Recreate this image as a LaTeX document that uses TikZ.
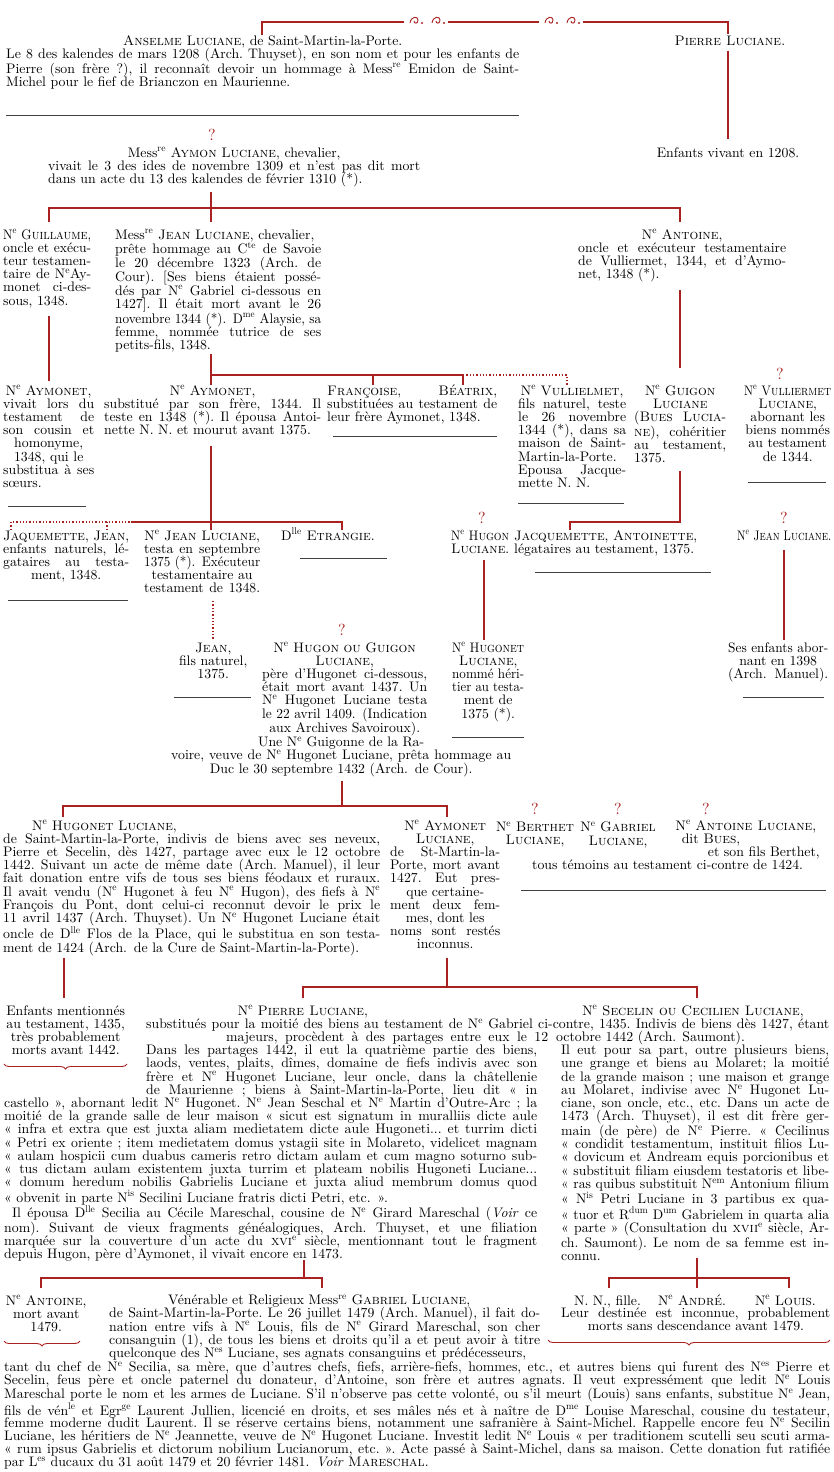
\documentclass[tikz,border=0pt]{standalone}
\usepackage{graphicx}
\usepackage{fontspec}
\setmainfont{lmroman10}[Extension=.otf, UprightFont=*-regular, ItalicFont=*-italic,
  BoldFont=*-bold, SmallCapsFont=lmromancaps10-regular]
\usetikzlibrary{positioning,decorations.pathreplacing}
\definecolor{treered}{RGB}{170,34,32}
\lineskiplimit=-20pt
\newlength\natw
\newcommand\sx[1]{\textsuperscript{#1}}
\newcommand\Nb{N\sx{e}}
% one printed line, fitted to the column
\newcommand\fitbox[2]{\settowidth\natw{#2}\ifdim\natw>\linewidth\resizebox{\linewidth}{\height}{#2}\else\makebox[\linewidth][#1]{#2}\fi}
\newcommand\jl[1]{\settowidth\natw{#1}\ifdim\natw>\linewidth\resizebox{\linewidth}{\height}{#1}\else\leavevmode\hbox to\linewidth{\frenchspacing\spaceskip=.3em plus 1fil\relax#1}\fi}
\newcommand\lf{\fitbox{l}}
\newcommand\ct{\fitbox{c}}
\begin{document}
\begin{tikzpicture}[x=1pt,y=-1pt,
  font=\fontsize{13.8}{13.2}\selectfont,
  para/.style={text width=#1, inner sep=0pt, anchor=mid west},
  lbl/.style={inner sep=0pt, anchor=mid},
  tree/.style={draw=treered, line width=1.3pt},
  natural/.style={draw=treered, line width=1.3pt, dotted},
  rule/.style={draw=black!75, line width=.7pt},
  qm/.style={inner sep=0pt, text=treered, font=\fontsize{16}{16}\selectfont},
  curl/.style={draw=treered, line width=.9pt},
  bracedown/.style={draw=treered, line width=.9pt, decorate, decoration={brace, amplitude=5pt}}]
\useasboundingbox (0,0) rectangle (834,1472);
\fill[white] (0,0) rectangle (834,1472);

% Anselme and Pierre
\coordinate (topL) at (262,22);
\coordinate (topR) at (728,22);
\draw[tree] (262,35) -- (topL) -- (404,22);
\draw[tree] (448,22) -- (539,22);
\draw[tree] (583,22) -- (topR) -- (728,34);
\foreach \ox in {410,432,545,567} {
  \draw[curl] (\ox,23) .. controls (\ox+1,16) and (\ox+8,16) .. (\ox+8,20) .. controls (\ox+8,24) and (\ox+4,24) .. (\ox+4,21);
  \fill[treered] (\ox+12,23) circle (1.1);
}
\node[para=513pt] (anselme) at (6,43) {%
\ct{\textsc{Anselme Luciane}, de Saint-Martin-la-Porte.}\\
\jl{Le 8 des kalendes de mars 1208 (Arch. Thuyset), en son nom et pour les enfants de}\\
\jl{Pierre (son frère ?), il reconnaît devoir un hommage à Mess\sx{re} Emidon de Saint-}\\
\lf{Michel pour le fief de Brianczon en Maurienne.}};
\draw[rule] (6,115) -- (519,115);
\node[lbl] (pierre) at (730,43) {\textsc{Pierre Luciane.}};
\node[lbl] (enf1208) at (728,155) {Enfants vivant en 1208.};
\draw[tree] ([yshift=-5pt]pierre.south -| topR) -- ([yshift=8pt]enf1208.north -| topR);

% Aymon
\node[qm] (q1) at (212,135) {?};
\node[para=372pt] (aymon) at (48,155) {%
\ct{Mess\sx{re} \textsc{Aymon Luciane}, chevalier,}\\
\jl{vivait le 3 des ides de novembre 1309 et n'est pas dit mort}\\
\lf{dans un acte du 13 des kalendes de février 1310 (*).}};
\coordinate (barA) at (211,208);
\draw[tree] (211,192) -- (211,222);
\draw[tree] (49,222) -- (49,208) -- (barA) -- (680,208) -- (680,222);

% children of Aymon
\node[para=88pt] (guillaume) at (3,237) {%
\lf{\Nb{} \textsc{Guillaume},}\\
\jl{oncle et exécu-}\\
\jl{teur testamen-}\\
\jl{taire de \Nb{}Ay-}\\
\jl{monet ci-des-}\\
\lf{sous, 1348.}};
\node[para=206pt] (jean) at (115,237) {%
\lf{Mess\sx{re} \textsc{Jean Luciane}, chevalier,}\\
\jl{prête hommage au C\sx{te} de Savoie}\\
\jl{le 20 décembre 1323 (Arch. de}\\
\jl{Cour). [Ses biens étaient possé-}\\
\jl{dés par \Nb{} Gabriel ci-dessous en}\\
\jl{1427]. Il était mort avant le 26}\\
\jl{novembre 1344 (*). D\sx{me} Alaysie, sa}\\
\jl{femme, nommée tutrice de ses}\\
\lf{petits-fils, 1348.}};
\node[para=208pt] (antoine) at (578,237) {%
\ct{\Nb{} \textsc{Antoine},}\\
\jl{oncle et exécuteur testamentaire}\\
\jl{de Vulliermet, 1344, et d'Aymo-}\\
\lf{net, 1348 (*).}};
\draw[tree] (49,316) -- (49,381);
\draw[tree] (211,354) -- (211,385);
\draw[tree] (211,375) -- (463,375);
\draw[tree] (373,375) -- (373,385);
\draw[tree] (463,385) -- (463,375);
\draw[natural] (463,375) -- (567,375) -- (567,386);
\draw[tree] (680,290) -- (680,368);

% grandchildren
\node[para=91pt] (aymonetc) at (3,393) {%
\ct{\Nb{} \textsc{Aymonet},}\\
\jl{vivait lors du}\\
\jl{testament de}\\
\jl{son cousin et}\\
\ct{homonyme,}\\
\ct{1348, qui le}\\
\jl{substitua à ses}\\
\lf{sœurs.}};
\draw[rule] (8,506) -- (86,506);
\node[para=217pt] (aymonet) at (104,393) {%
\ct{\Nb{} \textsc{Aymonet},}\\
\jl{substitué par son frère, 1344. Il}\\
\jl{teste en 1348 (*). Il épousa Antoi-}\\
\lf{nette N. N. et mourut avant 1375.}};
\node[para=170pt] (francoise) at (327,393) {%
\jl{\textsc{Françoise}, \textsc{Béatrix},}\\
\jl{substituées au testament de}\\
\lf{leur frère Aymonet, 1348.}};
\draw[rule] (333,436) -- (497,436);
\node[para=108pt] (vullielmet) at (518,393) {%
\ct{\Nb{} \textsc{Vullielmet},}\\
\jl{fils naturel, teste}\\
\jl{le 26 novembre}\\
\jl{1344 (*), dans sa}\\
\jl{maison de Saint-}\\
\jl{Martin-la-Porte.}\\
\jl{Epousa Jacque-}\\
\lf{mette N. N.}};
\draw[rule] (518,503) -- (624,503);
\node[para=92pt] (guigon) at (634,393) {%
\ct{\Nb{} \textsc{Guigon}}\\
\ct{\textsc{Luciane}}\\
\jl{(\textsc{Bues Lucia}-}\\
\jl{\textsc{ne}), cohéritier}\\
\jl{au testament,}\\
\lf{1375.}};
\node[qm] (q2) at (780,374) {?};
\node[para=87pt] (vulliermet) at (744,393) {%
\ct{\Nb{} \textsc{Vulliermet}}\\
\ct{\textsc{Luciane},}\\
\ct{abornant les}\\
\ct{biens nommés}\\
\ct{au testament}\\
\ct{de 1344.}};
\draw[rule] (748,482) -- (826,482);

% children of Aymonet and of Guigon
\draw[tree] (211,446) -- (211,530);
\draw[natural] (11,530) -- (11,522) -- (131,522);
\draw[natural] (107,522) -- (107,530);
\draw[tree] (131,522) -- (342,522) -- (342,530);
\draw[tree] (680,471) -- (680,522) -- (570,522) -- (570,530);
\node[para=126pt] (jaquemette) at (3,538) {%
\jl{\textsc{Jaquemette}, \textsc{Jean},}\\
\jl{enfants naturels, lé-}\\
\jl{gataires au testa-}\\
\ct{ment, 1348.}};
\draw[rule] (8,600) -- (128,600);
\node[para=116pt] (jeanl) at (144,538) {%
\ct{\Nb{} \textsc{Jean Luciane},}\\
\jl{testa en septembre}\\
\jl{1375 (*). Exécuteur}\\
\ct{testamentaire au}\\
\jl{testament de 1348.}};
\node[anchor=mid west, inner sep=0pt] (etrangie) at (281,538) {D\sx{lle} \textsc{Etrangie}.};
\draw[rule] (300,558) -- (387,558);
\node[qm] (q3) at (482,518) {?};
\node[para=58pt] (hugon) at (451,538) {%
\ct{\Nb{} \textsc{Hugon}}\\
\ct{\textsc{Luciane}.}};
\node[para=183pt] (jacquemette) at (514,538) {%
\jl{\textsc{Jacquemette}, \textsc{Antoinette},}\\
\lf{légataires au testament, 1375.}};
\draw[rule] (535,572) -- (711,572);
\node[qm] (q4) at (784,518) {?};
\node[para=94pt] (jeanr) at (737,538) {\ct{\Nb{} \textsc{Jean Luciane}.}};

% next generation
\draw[natural] (213,601) -- (213,640);
\draw[tree] (484,560) -- (484,640);
\draw[tree] (784,550) -- (784,640);
\node[para=78pt] (jeanf) at (174,650) {%
\ct{\textsc{Jean},}\\
\ct{fils naturel,}\\
\ct{1375.}};
\draw[rule] (174,697) -- (251,697);
\node[qm] (q5) at (342,630) {?};
\node[para=165pt] (hugong) at (262,650) {%
\ct{\Nb{} \textsc{Hugon ou Guigon}}\\
\ct{\textsc{Luciane},}\\
\jl{père d'Hugonet ci-dessous,}\\
\jl{était mort avant 1437. Un}\\
\jl{\Nb{} Hugonet Luciane testa}\\
\jl{le 22 avril 1409. (Indication}\\
\ct{aux Archives Savoiroux).}};
\node[para=340pt] (guigonne) at (171,744.5) {%
\ct{Une \Nb{} Guigonne de la Ra-}\\
\jl{voire, veuve de \Nb{} Hugonet Luciane, prêta hommage au}\\
\ct{Duc le 30 septembre 1432 (Arch. de Cour).}};
\node[para=72pt] (hugonet) at (452,650) {%
\ct{\Nb{} \textsc{Hugonet}}\\
\ct{\textsc{Luciane},}\\
\jl{nommé héri-}\\
\jl{tier au testa-}\\
\ct{ment de}\\
\ct{1375 (*).}};
\draw[rule] (452,737) -- (524,737);
\node[para=100pt] (sesenf) at (728,650) {%
\jl{Ses enfants abor-}\\
\ct{nant en 1398}\\
\jl{(Arch. Manuel).}};
\draw[rule] (743,697) -- (824,697);

% children of Hugon
\draw[tree] (342,781) -- (342,806);
\draw[tree] (63,817) -- (63,806) -- (447,806) -- (447,817);
\node[para=377pt] (hugonetl) at (3,828) {%
\lf{\hspace*{29pt}\Nb{} \textsc{Hugonet Luciane},}\\
\jl{de Saint-Martin-la-Porte, indivis de biens avec ses neveux,}\\
\jl{Pierre et Secelin, dès 1427, partage avec eux le 12 octobre}\\
\jl{1442. Suivant un acte de même date (Arch. Manuel), il leur}\\
\jl{fait donation entre vifs de tous ses biens féodaux et ruraux.}\\
\jl{Il avait vendu (\Nb{} Hugonet à feu \Nb{} Hugon), des fiefs à \Nb}\\
\jl{François du Pont, dont celui-ci reconnut devoir le prix le}\\
\jl{11 avril 1437 (Arch. Thuyset). Un \Nb{} Hugonet Luciane était}\\
\jl{oncle de D\sx{lle} Flos de la Place, qui le substitua en son testa-}\\
\lf{ment de 1424 (Arch. de la Cure de Saint-Martin-la-Porte).}};
\node[para=110pt] (aymonetl) at (390,828) {%
\ct{\Nb{} \textsc{Aymonet}}\\
\ct{\textsc{Luciane},}\\
\jl{de St-Martin-la-}\\
\jl{Porte, mort avant}\\
\jl{1427. Eut pres-}\\
\ct{que certaine-}\\
\jl{ment deux fem-}\\
\ct{mes, dont les}\\
\jl{noms sont restés}\\
\ct{inconnus.}};
\node[qm] (q6) at (535,809) {?};
\node[qm] (q7) at (618,809) {?};
\node[qm] (q8) at (706,809) {?};
\node[inner sep=0pt, anchor=north, align=center] (berthet) at (535,822) {\Nb{} \textsc{Berthet}\\\textsc{Luciane},};
\node[inner sep=0pt, anchor=north, align=center] (gabrielw) at (618,822) {\Nb{} \textsc{Gabriel}\\\textsc{Luciane},};
\node[lbl] (antoineb) at (746,828) {\Nb{} \textsc{Antoine Luciane},};
\node[lbl] (bues) at (711,841.2) {dit \textsc{Bues},};
\node[anchor=mid east, inner sep=0pt] (filsb) at (820,854.4) {et son fils Berthet,};
\node[anchor=mid west, inner sep=0pt] (temoins) at (532,867.6) {tous témoins au testament ci-contre de 1424.};
\draw[rule] (521,890) -- (826,890);

% children of Hugonet and of Aymonet
\draw[tree] (64,958) -- (64,998);
\draw[tree] (447,958) -- (447,987);
\draw[tree] (303,998) -- (303,987) -- (697,987) -- (697,998);
\node[para=123pt] (enfm) at (4,1013) {%
\ct{Enfants mentionnés}\\
\ct{au testament, 1435,}\\
\ct{très probablement}\\
\ct{morts avant 1442.}};
\draw[bracedown] (127,1064) -- (4,1064);
\node[lbl] (pierrel) at (303,1013) {\Nb{} \textsc{Pierre Luciane},};
\node[lbl] (secelin) at (693,1013) {\Nb{} \textsc{Secelin ou Cecilien Luciane},};
\node[para=683pt] (subst) at (146,1026.2) {%
\jl{substitués pour la moitié des biens au testament de \Nb{} Gabriel ci-contre, 1435. Indivis de biens dès 1427, étant}};
\node[para=322pt] (majeurs) at (226,1039.4) {\jl{majeurs, procèdent à des partages entre eux le 12}};
\node[anchor=mid west, inner sep=0pt] (octobre) at (556,1039.4) {octobre 1442 (Arch. Saumont).};
\node[para=391pt] (pierreb) at (146,1052.6) {%
\jl{Dans les partages 1442, il eut la quatrième partie des biens,}\\
\jl{laods, ventes, plaits, dîmes, domaine de fiefs indivis avec son}\\
\jl{frère et \Nb{} Hugonet Luciane, leur oncle, dans la châtellenie}\\
\jl{de Maurienne ; biens à Saint-Martin-la-Porte, lieu dit « in}};
\node[para=533pt] (pierrec) at (4,1105.4) {%
\jl{castello », abornant ledit \Nb{} Hugonet. \Nb{} Jean Seschal et \Nb{} Martin d'Outre-Arc ; la}\\
\jl{moitié de la grande salle de leur maison « sicut est signatum in muralliis dicte aule}\\
\jl{« infra et extra que est juxta aliam medietatem dicte aule Hugoneti... et turrim dicti}\\
\jl{« Petri ex oriente ; item medietatem domus ystagii site in Molareto, videlicet magnam}\\
\jl{« aulam hospicii cum duabus cameris retro dictam aulam et cum magno soturno sub-}\\
\jl{« tus dictam aulam existentem juxta turrim et plateam nobilis Hugoneti Luciane...}\\
\jl{« domum heredum nobilis Gabrielis Luciane et juxta aliud membrum domus quod}\\
\lf{« obvenit in parte N\sx{is} Secilini Luciane fratris dicti Petri, etc. ».}\\
\jl{\hspace*{8pt}Il épousa D\sx{lle} Secilia au Cécile Mareschal, cousine de \Nb{} Girard Mareschal (\textit{Voir} ce}\\
\jl{nom). Suivant de vieux fragments généalogiques, Arch. Thuyset, et une filiation}\\
\jl{marquée sur la couverture d'un acte du \textsc{xvi}\sx{e} siècle, mentionnant tout le fragment}\\
\lf{depuis Hugon, père d'Aymonet, il vivait encore en 1473.}};
\node[para=268pt] (secelinb) at (561,1052.6) {%
\jl{Il eut pour sa part, outre plusieurs biens,}\\
\jl{une grange et biens au Molaret; la moitié}\\
\jl{de la grande maison ; une maison et grange}\\
\jl{au Molaret, indivise avec \Nb{} Hugonet Lu-}\\
\jl{ciane, son oncle, etc., etc. Dans un acte de}\\
\jl{1473 (Arch. Thuyset), il est dit frère ger-}\\
\jl{main (de père) de \Nb{} Pierre. « Cecilinus}\\
\jl{« condidit testamentum, instituit filios Lu-}\\
\jl{« dovicum et Andream equis porcionibus et}\\
\jl{« substituit filiam eiusdem testatoris et libe-}\\
\jl{« ras quibus substituit N\sx{em} Antonium filium}\\
\jl{« N\sx{is} Petri Luciane in 3 partibus ex qua-}\\
\jl{« tuor et R\sx{dum} D\sx{um} Gabrielem in quarta alia}\\
\jl{« parte » (Consultation du \textsc{xvii}\sx{e} siècle, Ar-}\\
\jl{ch. Saumont). Le nom de sa femme est in-}\\
\lf{connu.}};

% children of Pierre and of Secelin
\draw[tree] (304,1260) -- (304,1278);
\draw[tree] (41,1288) -- (41,1278) -- (322,1278) -- (322,1288);
\draw[tree] (697,1258) -- (697,1288);
\draw[tree] (609,1288) -- (609,1278) -- (789,1278) -- (789,1288);
\node[para=84pt] (antoinem) at (4,1303) {%
\ct{\Nb{} \textsc{Antoine},}\\
\ct{mort avant}\\
\ct{1479.}};
\draw[bracedown] (80,1341) -- (4,1341);
\node[para=431pt] (gabriel) at (109,1302.5) {%
\lf{\hspace*{59pt}Vénérable et Religieux Mess\sx{re} \textsc{Gabriel Luciane},}\\
\jl{de Saint-Martin-la-Porte. Le 26 juillet 1479 (Arch. Manuel), il fait do-}\\
\jl{nation entre vifs à \Nb{} Louis, fils de \Nb{} Girard Mareschal, son cher}\\
\jl{consanguin (1), de tous les biens et droits qu'il a et peut avoir à titre}\\
\lf{quelconque des N\sx{es} Luciane, ses agnats consanguins et prédécesseurs,}};
\node[para=826pt, font=\fontsize{13.8}{12.8}\selectfont] (gabrielb) at (4,1369.5) {%
\jl{tant du chef de \Nb{} Secilia, sa mère, que d'autres chefs, fiefs, arrière-fiefs, hommes, etc., et autres biens qui furent des N\sx{es} Pierre et}\\
\jl{Secelin, feus père et oncle paternel du donateur, d'Antoine, son frère et autres agnats. Il veut expressément que ledit \Nb{} Louis}\\
\jl{Mareschal porte le nom et les armes de Luciane. S'il n'observe pas cette volonté, ou s'il meurt (Louis) sans enfants, substitue \Nb{} Jean,}\\
\jl{fils de vén\sx{le} et Egr\sx{ge} Laurent Jullien, licencié en droits, et ses mâles nés et à naître de D\sx{me} Louise Mareschal, cousine du testateur,}\\
\jl{femme moderne dudit Laurent. Il se réserve certains biens, notamment une safranière à Saint-Michel. Rappelle encore feu \Nb{} Secilin}\\
\jl{Luciane, les héritiers de \Nb{} Jeannette, veuve de \Nb{} Hugonet Luciane. Investit ledit \Nb{} Louis « per traditionem scutelli seu scuti arma-}\\
\jl{« rum ipsus Gabrielis et dictorum nobilium Lucianorum, etc. ». Acte passé à Saint-Michel, dans sa maison. Cette donation fut ratifiée}\\
\lf{par L\sx{es} ducaux du 31 août 1479 et 20 février 1481. \textit{Voir} \textsc{Mareschal}.}};
\node[anchor=mid west, inner sep=0pt] (nnfille) at (574,1303) {N. N., fille.};
\node[lbl] (andre) at (692,1303) {\Nb{} \textsc{André}.};
\node[anchor=mid east, inner sep=0pt] (louis) at (816,1303) {\Nb{} \textsc{Louis}.};
\node[para=269pt] (destinee) at (561,1315.6) {\jl{Leur destinée est inconnue, probablement}};
\node[lbl] (morts) at (696,1328.2) {morts sans descendance avant 1479.};
\draw[bracedown] (830,1340) -- (548,1340);
\end{tikzpicture}
\end{document}
